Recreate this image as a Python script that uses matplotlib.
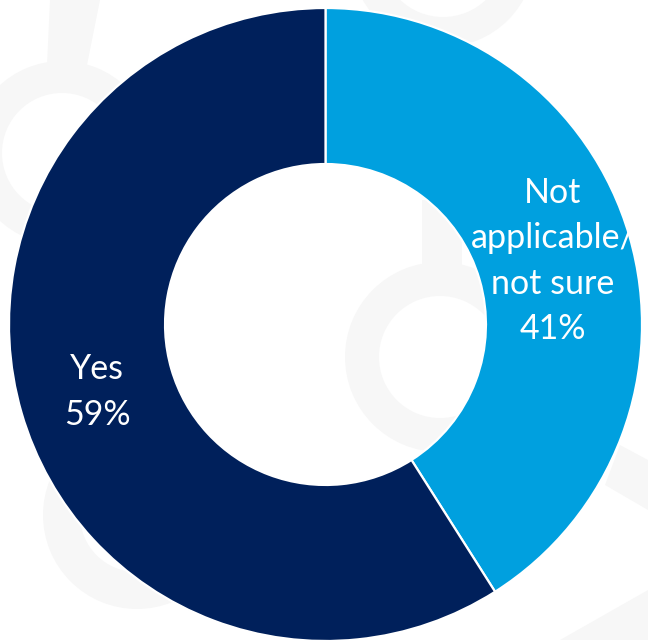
import matplotlib
matplotlib.use('Agg')
import matplotlib.pyplot as plt
from matplotlib.patches import Wedge, Polygon

labels = ['Not\napplicable/\nnot sure', 'Yes']
values = [41, 59]
colors = ['#00A0DF', '#00205B']

W, H = 648, 640
cx, cy, r = 325.5, 640 - 324.5, 316.5  # pixels, y from bottom

fig = plt.figure(figsize=(W / 100, H / 100), dpi=100)
fig.patch.set_facecolor('white')

# faint logo watermark behind the chart (pixel coords, y down)
bg = fig.add_axes([0, 0, 1, 1])
bg.set_xlim(0, W)
bg.set_ylim(H, 0)
bg.axis('off')
wm = '#f7f7f7'
for (x, y, ro, ri) in [(62, 153, 92, 60), (443, -45, 92, 62), (137, 515, 94, 57), (440, 357, 95, 61)]:
    bg.add_patch(Wedge((x, y), ro, 0, 360, width=ro - ri, color=wm, lw=0))
for pts in [[(50, 0), (100, 0), (87, 65), (47, 65)],
            [(422, 200), (462, 200), (462, 270), (422, 270)],
            [(620, 445), (648, 460), (648, 510), (605, 485)],
            [(560, 640), (648, 590), (648, 640)]]:
    bg.add_patch(Polygon(pts, closed=True, color=wm, lw=0))

ax = fig.add_axes([(cx - r) / W, (cy - r) / H, 2 * r / W, 2 * r / H])
ax.patch.set_alpha(0)
wedges, _ = ax.pie(values, colors=colors, startangle=90, counterclock=False,
                   radius=1.0,
                   wedgeprops=dict(width=0.493, edgecolor='white', linewidth=1.6))
ax.set_xlim(-1, 1)
ax.set_ylim(-1, 1)
ax.set_aspect('equal')
ax.axis('off')

# label centres in pie-axes data units
lx0 = (553 - cx) / r
ly0 = ((640 - 261) - cy) / r
lx1 = (97 - cx) / r
ly1 = ((640 - 392) - cy) / r
for (lx, ly), lab, v in zip([(lx0, ly0), (lx1, ly1)], labels, values):
    ax.text(lx, ly, f'{lab}\n{v}%', ha='center', va='center', color='white',
            fontsize=24.5, family=['Lato', 'DejaVu Sans'], linespacing=1.52)

fig.savefig('out.png', dpi=100, facecolor='white')
